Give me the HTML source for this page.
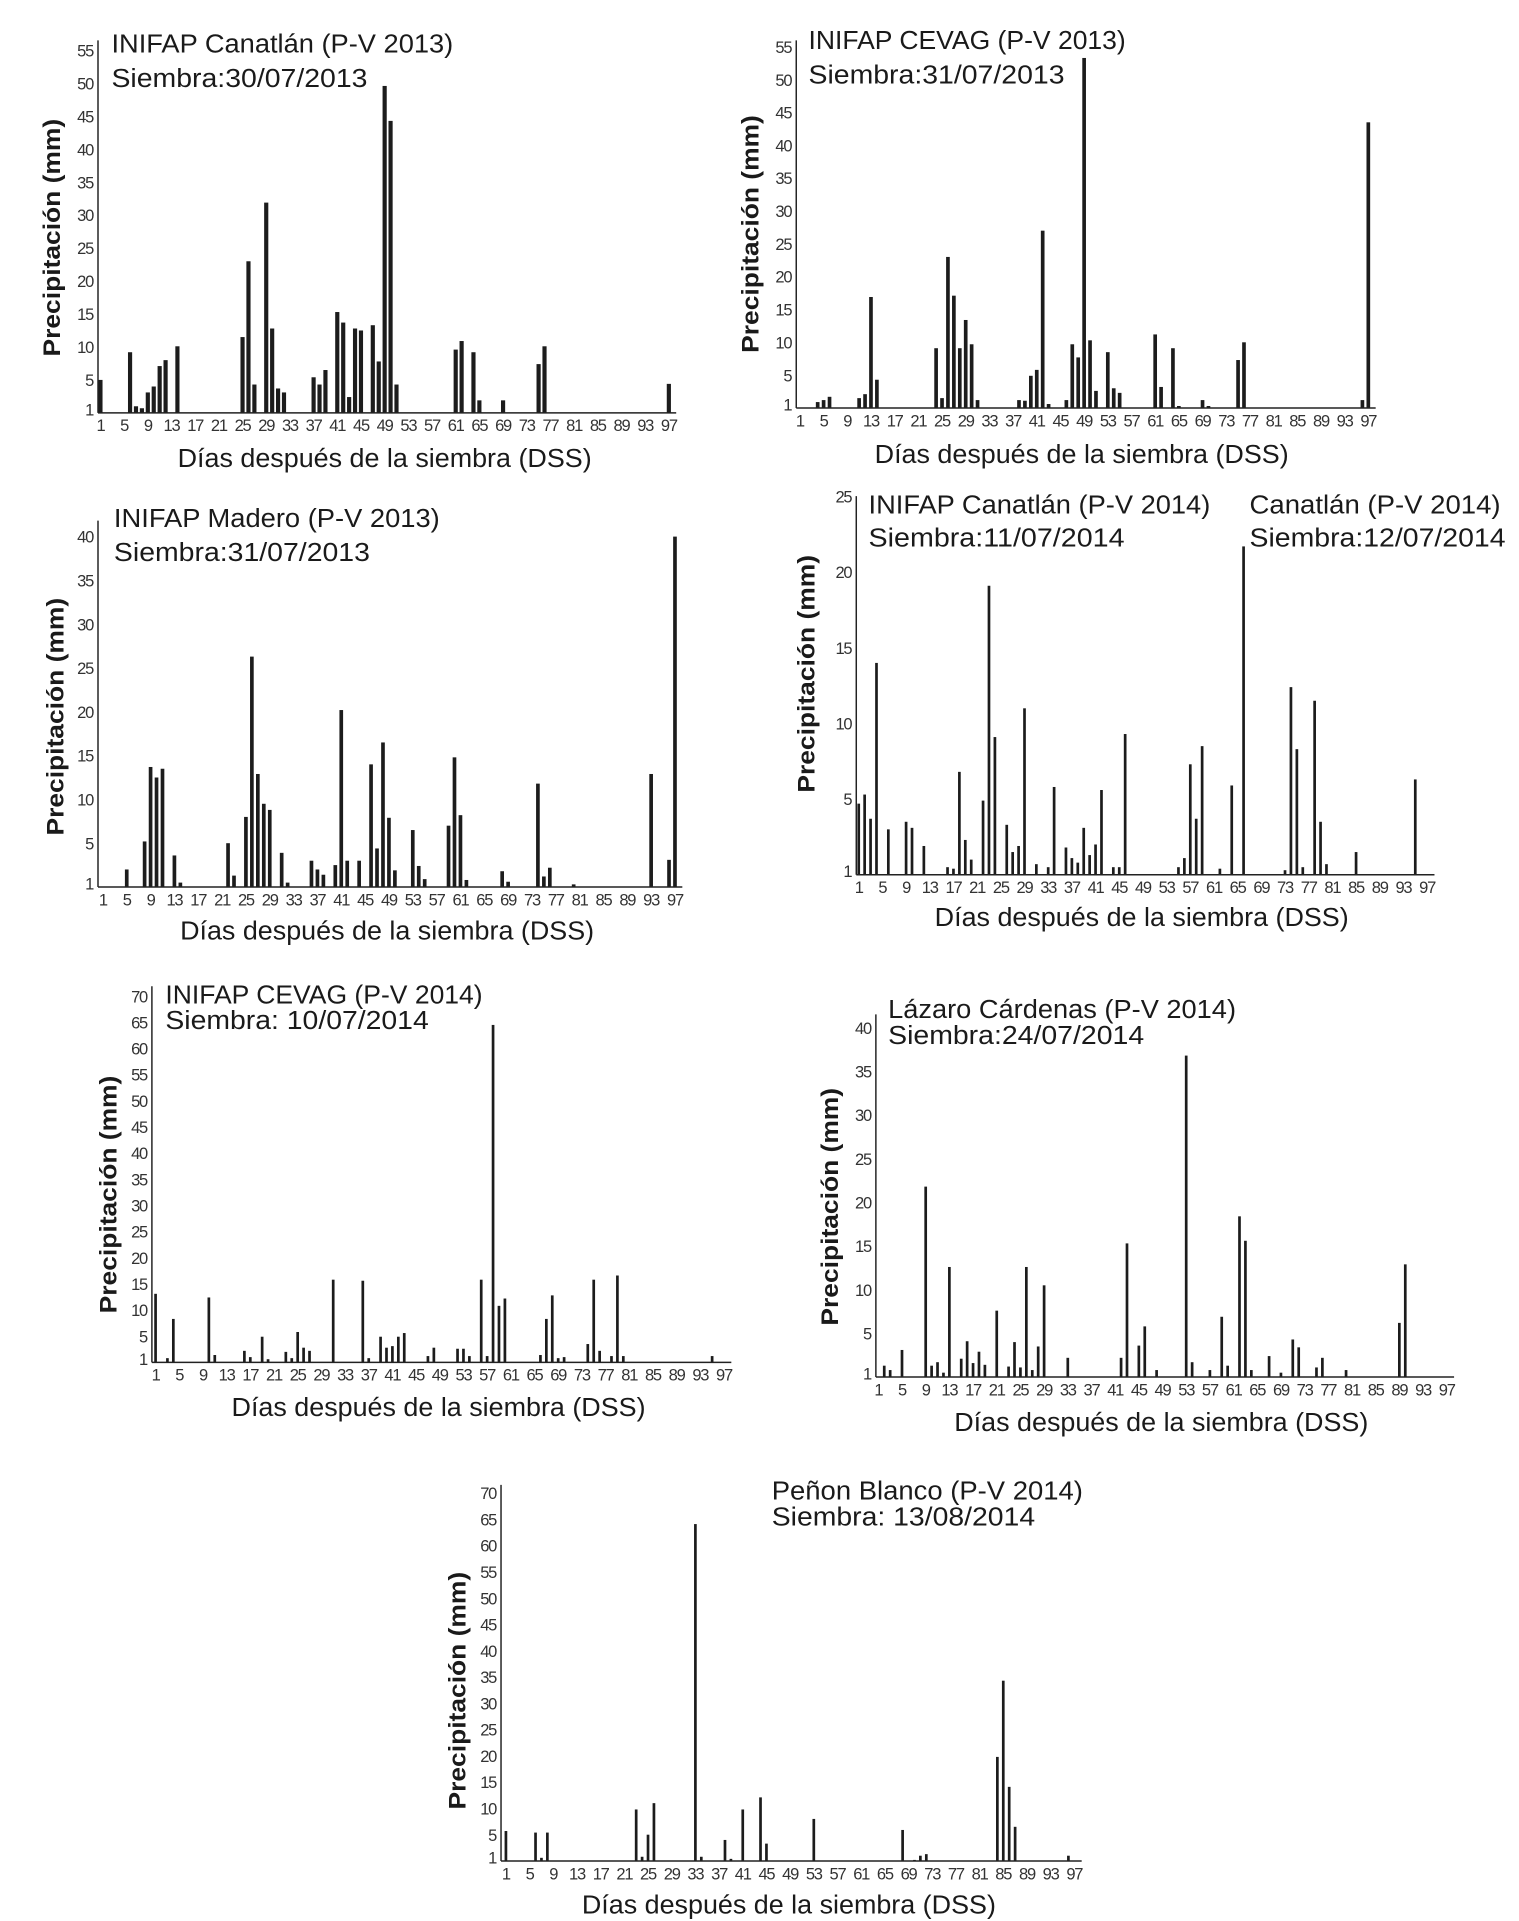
<!DOCTYPE html>
<html><head><meta charset="utf-8">
<style>
html,body{margin:0;padding:0;background:#fff;}
svg{display:block;}
text{font-family:"Liberation Sans",sans-serif;fill:#1a1a1a;}
.tk{font-size:13.5px;letter-spacing:-1px;fill:#333;}
.ttl{font-size:21px;}
.yt{font-size:20px;font-weight:600;}
.xt{font-size:21px;}
</style></head>
<body>
<svg id="fig" width="1519" height="1921" viewBox="0 0 1240 1568" preserveAspectRatio="none" xmlns="http://www.w3.org/2000/svg"></svg>
<script>
// ---- data (days after sowing / precipitation mm) ----
const xTickLabels = [1,5,9,13,17,21,25,29,33,37,41,45,49,53,57,61,65,69,73,77,81,85,89,93,97];

const c1Days = [1,6,7,8,9,10,11,12,14,25,26,27,29,30,31,32,37,38,39,41,42,43,44,45,47,48,49,50,51,61,62,64,65,69,75,76,97];
const c1Vals = [5.0,9.2,1.0,0.7,3.1,4.0,7.1,8.0,10.1,11.5,23,4.3,31.9,12.8,3.7,3.1,5.4,4.3,6.5,15.3,13.7,2.4,12.8,12.5,13.3,7.8,49.6,44.3,4.3,9.6,10.9,9.2,1.9,1.9,7.4,10.1,4.4];
const c1Ticks = [1,5,10,15,20,25,30,35,40,45,50,55];

const c2Days = [4,5,6,11,12,13,14,24,25,26,27,28,29,30,31,38,39,40,41,42,43,46,47,48,49,50,51,53,54,55,61,62,64,65,69,70,75,76,96,97];
const c2Vals = [0.9,1.2,1.7,1.5,2.1,16.9,4.3,9.1,1.5,23,17.1,9.1,13.4,9.7,1.2,1.2,1.1,4.9,5.8,27,0.6,1.2,9.7,7.7,53.3,10.3,2.6,8.5,3.0,2.3,11.2,3.2,9.1,0.3,1.2,0.3,7.3,10.0,1.2,43.5];
const c2Ticks = [1,5,10,15,20,25,30,35,40,45,50,55];

const c3Days = [5,8,9,10,11,13,14,22,23,25,26,27,28,29,31,32,36,37,38,40,41,42,44,46,47,48,49,50,53,54,55,59,60,61,62,68,69,74,75,76,80,93,96,97];
const c3Vals = [2.0,5.2,13.7,12.5,13.5,3.6,0.5,5.0,1.3,8.0,26.3,12.9,9.5,8.8,3.9,0.5,3.0,2.0,1.4,2.5,20.2,3.0,3.0,14,4.4,16.5,7.9,1.9,6.5,2.4,0.9,7.0,14.8,8.2,0.8,1.8,0.6,11.8,1.2,2.2,0.3,12.9,3.1,40];
const c3Ticks = [1,5,10,15,20,25,30,35,40];

const c4Days = [1,2,3,4,6,9,10,12,16,17,18,19,20,22,23,24,26,27,28,29,31,33,34,36,37,38,39,40,41,42,44,45,46,55,56,57,58,59,62,64,66,73,74,75,76,78,79,80,85,95];
const c4Vals = [4.7,5.3,3.7,14.0,3.0,3.5,3.1,1.9,0.5,0.4,6.8,2.3,1.0,4.9,19.1,9.1,3.3,1.5,1.9,11.0,0.7,0.5,5.8,1.8,1.1,0.8,3.1,1.3,2.0,5.6,0.5,0.5,9.3,0.5,1.1,7.3,3.7,8.5,0.4,5.9,21.7,0.3,12.4,8.3,0.5,11.5,3.5,0.7,1.5,6.3];
const c4Ticks = [1,5,10,15,20,25];

const c5Days = [1,3,4,10,11,16,17,19,20,23,24,25,26,27,31,36,37,39,40,41,42,43,47,48,52,53,54,56,57,58,59,60,66,67,68,69,70,74,75,76,78,79,80,95];
const c5Vals = [13.1,0.8,8.3,12.4,1.4,2.2,1.0,4.9,0.6,2.0,0.8,5.8,2.8,2.2,15.8,15.6,0.8,4.9,2.8,3.1,4.9,5.6,1.2,2.8,2.6,2.6,1.2,15.8,1.2,64.5,10.8,12.2,1.4,8.3,12.8,0.8,1.0,3.5,15.8,2.2,1.2,16.6,1.2,1.2];
const c5Ticks = [1,5,10,15,20,25,30,35,40,45,50,55,60,65,70];

const c6Days = [2,3,5,9,10,11,12,13,15,16,17,18,19,21,23,24,25,26,27,28,29,33,42,43,45,46,48,53,54,57,59,60,62,63,64,67,69,71,72,75,76,80,89,90];
const c6Vals = [1.3,0.8,3.1,21.8,1.3,1.7,0.5,12.6,2.1,4.1,1.6,2.9,1.4,7.6,1.2,4.0,1.1,12.6,0.8,3.5,10.5,2.2,2.2,15.3,3.6,5.8,0.8,36.8,1.7,0.8,6.9,1.3,18.4,15.6,0.8,2.4,0.5,4.3,3.4,1.1,2.2,0.8,6.2,12.9];
const c6Ticks = [1,5,10,15,20,25,30,35,40];

const c7Days = [1,6,7,8,23,24,25,26,33,34,38,39,41,44,45,53,68,70,71,72,84,85,86,87,96];
const c7Vals = [5.7,5.4,0.6,5.4,9.8,0.8,5.0,11.0,64.1,0.8,4.0,0.4,9.8,12.1,3.3,8.0,5.9,0.2,1.0,1.3,19.8,34.3,14.1,6.5,1.0];
const c7Ticks = [1,5,10,15,20,25,30,35,40,45,50,55,60,65,70];

const NS = "http://www.w3.org/2000/svg";
const svg = document.getElementById('fig');
function mk(tag, attrs, parent){
  const e = document.createElementNS(NS, tag);
  for (const k in attrs) e.setAttribute(k, attrs[k]);
  (parent||svg).appendChild(e);
  return e;
}

function drawChart(cfg, days, vals, ticks){
  const g = mk('g', {});
  
  
  const xs = d => cfg.x1 + (d-1)*(cfg.x97-cfg.x1)/96;
  const ys = v => cfg.base - v*cfg.ppu;
  days.forEach((d,i)=>{
    const r = mk('rect', {x:(xs(d)-cfg.bw/2).toFixed(2), y:ys(vals[i]).toFixed(2), width:cfg.bw, height:(vals[i]*cfg.ppu).toFixed(2), fill:'#1c1c1c'}, g);
    
    
  });
  const ya = mk('line', {x1:cfg.ax, y1:cfg.top, x2:cfg.ax, y2:cfg.base, stroke:'#222', 'stroke-width':1.2}, g);
  
  
  const xa = mk('line', {x1:cfg.ax, y1:cfg.base, x2:cfg.x97+6, y2:cfg.base, stroke:'#222', 'stroke-width':1.2}, g);
  
  
  ticks.forEach(t=>{
    const yy = t===1 ? cfg.base-3 : ys(t);
    const tx = mk('text', {x:cfg.ax-4, y:(yy+5).toFixed(2), 'text-anchor':'end', class:'tk'}, g);
    tx.textContent = t;
    
    
  });
  xTickLabels.forEach(d=>{
    const tx = mk('text', {x:xs(d).toFixed(2), y:cfg.base+15, 'text-anchor':'middle', class:'tk'}, g);
    tx.textContent = d;
    
    
  });
  cfg.titles.forEach(tt=>{
    const tx = mk('text', {x:tt[0], y:tt[1], class:'ttl', textLength:tt[3], lengthAdjust:'spacingAndGlyphs'}, g);
    tx.textContent = tt[2];
    
    
  });
  const yt = mk('text', {x:0, y:0, class:'yt', 'text-anchor':'middle', transform:`translate(${cfg.ytx},${cfg.yty}) rotate(-90)`, textLength:194, lengthAdjust:'spacingAndGlyphs'}, g);
  yt.textContent = 'Precipitación (mm)';
  
  
  const xt = mk('text', {x:cfg.xtx, y:cfg.xty, class:'xt', 'text-anchor':'middle', textLength:338, lengthAdjust:'spacingAndGlyphs'}, g);
  xt.textContent = 'Días después de la siembra (DSS)';
  
  
}

drawChart({name:'chart-canatlan-2013', ax:80, top:33, base:337, ppu:5.38, x1:82, x97:546, bw:3.4,
  titles:[[91,43,'INIFAP Canatlán (P-V 2013)',279],[91,71,'Siembra:30/07/2013',209]],
  ytx:49, yty:194, xtx:314, xty:381}, c1Days, c1Vals, c1Ticks);

drawChart({name:'chart-cevag-2013', ax:650, top:33, base:333, ppu:5.36, x1:653, x97:1117, bw:3,
  titles:[[660,40,'INIFAP CEVAG (P-V 2013)',259],[660,68,'Siembra:31/07/2013',209]],
  ytx:619, yty:191, xtx:883, xty:378}, c2Days, c2Vals, c2Ticks);

drawChart({name:'chart-madero-2013', ax:80, top:425, base:724, ppu:7.15, x1:84, x97:551, bw:3,
  titles:[[93,430,'INIFAP Madero (P-V 2013)',266],[93,458,'Siembra:31/07/2013',209]],
  ytx:52, yty:585, xtx:316, xty:767}, c3Days, c3Vals, c3Ticks);

drawChart({name:'chart-canatlan-2014', ax:699, top:405, base:714, ppu:12.35, x1:701, x97:1165, bw:2.2,
  titles:[[709,419,'INIFAP Canatlán (P-V 2014)',279],[709,446,'Siembra:11/07/2014',209],[1020,419,'Canatlán (P-V 2014)',205],[1020,446,'Siembra:12/07/2014',209]],
  ytx:665, yty:550, xtx:932, xty:756}, c4Days, c4Vals, c4Ticks);

drawChart({name:'chart-cevag-2014', ax:124, top:805, base:1112, ppu:4.27, x1:127, x97:591, bw:2.2,
  titles:[[135,819,'INIFAP CEVAG (P-V 2014)',259],[135,840,'Siembra: 10/07/2014',215]],
  ytx:95, yty:975, xtx:358, xty:1156}, c5Days, c5Vals, c5Ticks);

drawChart({name:'chart-lazaro-cardenas-2014', ax:715, top:828, base:1124, ppu:7.13, x1:717, x97:1181, bw:2.2,
  titles:[[725,831,'Lázaro Cárdenas (P-V 2014)',284],[725,852,'Siembra:24/07/2014',209]],
  ytx:684, yty:985, xtx:948, xty:1168}, c6Days, c6Vals, c6Ticks);

drawChart({name:'chart-penon-blanco-2014', ax:409, top:1212, base:1519, ppu:4.29, x1:413, x97:877, bw:2.2,
  titles:[[630,1224,'Peñon Blanco (P-V 2014)',254],[630,1245,'Siembra: 13/08/2014',215]],
  ytx:380, yty:1380, xtx:644, xty:1562}, c7Days, c7Vals, c7Ticks);
</script>
</body></html>
